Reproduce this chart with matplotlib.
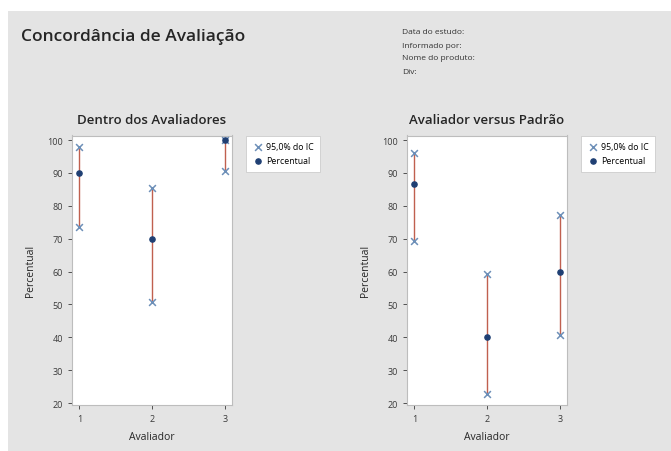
import matplotlib.pyplot as plt
from matplotlib.patches import Rectangle

plt.rcParams['font.family'] = ['Open Sans', 'DejaVu Sans']

avaliadores = [1, 2, 3]

# Dentro dos Avaliadores
dentro_pct = [90.0, 70.0, 100.0]
dentro_lo = [73.5, 50.6, 90.5]
dentro_hi = [97.9, 85.3, 100.0]

# Avaliador versus Padrão
padrao_pct = [86.7, 40.0, 60.0]
padrao_lo = [69.3, 22.7, 40.6]
padrao_hi = [96.2, 59.4, 77.3]

header_lines = ["Data do estudo:", "Informado por:", "Nome do produto:", "Div:"]

BG = "#e4e4e4"
W, H = 671, 452

fig = plt.figure(figsize=(W / 100, H / 100), dpi=100, facecolor=BG)

# white strips at top and left like the screenshot
fig.patches.append(Rectangle((0, 1 - 12 / H), 1, 12 / H, transform=fig.transFigure,
                             facecolor="white", edgecolor="none", zorder=0))
fig.patches.append(Rectangle((0, 0), 8 / W, 1, transform=fig.transFigure,
                             facecolor="white", edgecolor="none", zorder=0))

fig.text(21 / W, 1 - 37 / H, "Concordância de Avaliação", fontsize=12.5,
         color="#262626", va="center", ha="left", fontweight="semibold")
for i, line in enumerate(header_lines):
    fig.text(402 / W, 1 - (33 + 13 * i) / H, line, fontsize=6, color="#333333",
             va="center", ha="left")


def panel(left, title, pct, lo, hi):
    ax = fig.add_axes([left / W, (H - 406) / H, 160 / W, 269.5 / H])
    ax.set_facecolor("white")
    for x, l, h in zip(avaliadores, lo, hi):
        ax.plot([x, x], [l, h], color="#c0604f", lw=1.0, zorder=2)
    ax.scatter(avaliadores + avaliadores, lo + hi, marker="x", s=24, color="#6d8fb8",
               lw=1.1, zorder=3, label="95,0% do IC")
    ax.scatter(avaliadores, pct, marker="o", s=14, color="#1f3f73", zorder=4,
               label="Percentual")
    ax.set_xlim(0.9, 3.1)
    ax.set_ylim(19.4, 101.4)
    ax.set_xticks(avaliadores)
    ax.set_yticks(range(20, 101, 10))
    ax.tick_params(labelsize=6.5, colors="#3a3a3a", length=3, width=0.6)
    for s in ax.spines.values():
        s.set_color("#bdbdbd")
        s.set_linewidth(0.8)
    ax.set_title(title, fontsize=9.5, color="#262626", pad=9, fontweight="semibold")
    ax.set_xlabel("Avaliador", fontsize=7.5, color="#262626", labelpad=6)
    ax.set_ylabel("Percentual", fontsize=7.5, color="#262626", labelpad=8)
    leg = ax.legend(loc="upper left", bbox_to_anchor=(1.09, 1.0), fontsize=6.3,
                    frameon=True, fancybox=False, framealpha=1.0,
                    handletextpad=0.4, borderpad=0.8, handlelength=1.0,
                    labelspacing=0.5, borderaxespad=0.0)
    leg.get_frame().set_edgecolor("#cccccc")
    leg.get_frame().set_linewidth(0.6)
    return ax


panel(72, "Dentro dos Avaliadores", dentro_pct, dentro_lo, dentro_hi)
panel(407, "Avaliador versus Padrão", padrao_pct, padrao_lo, padrao_hi)

fig.savefig("out.png", dpi=100, facecolor=BG)
